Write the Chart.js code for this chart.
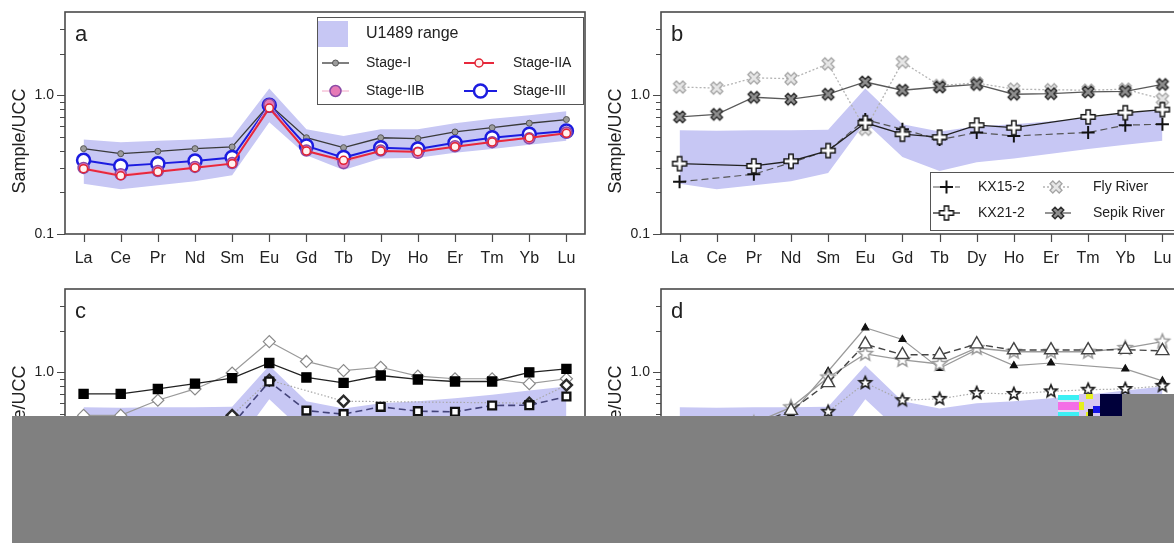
<!DOCTYPE html>
<html>
<head>
<meta charset="utf-8">
<script src="https://cdn.jsdelivr.net/npm/chart.js@4.4.0/dist/chart.umd.min.js"></script>
<style>
html, body { margin: 0; padding: 0; background: #fff; }
#wrap { position: relative; width: 1174px; height: 543px; overflow: hidden; }
#wrap canvas { position: absolute; }
.mask { position: absolute; }
</style>
</head>
<body>
<div id="wrap">
  <canvas id="panelA" width="596" height="277" style="left:0;top:0"></canvas>
  <canvas id="panelB" width="596" height="277" style="left:596px;top:0"></canvas>
  <canvas id="panelC" width="596" height="277" style="left:0;top:277px"></canvas>
  <canvas id="panelD" width="596" height="277" style="left:596px;top:277px"></canvas>
  <!-- grey block that hides the lower part of panels c and d -->
  <div class="mask" style="left:12px;top:416px;width:1162px;height:127px;background:#808080"></div>
  <div class="mask" style="left:1121px;top:394px;width:53px;height:22px;background:#808080"></div>
  <div class="mask" style="left:1079px;top:394px;width:22px;height:22px;background:#d6c8f2"></div>
  <div class="mask" style="left:1058px;top:395px;width:21px;height:5px;background:#3cf0f4"></div>
  <div class="mask" style="left:1058px;top:400px;width:21px;height:2px;background:#e4dcf6"></div>
  <div class="mask" style="left:1058px;top:402px;width:21px;height:8px;background:#f46ee6"></div>
  <div class="mask" style="left:1058px;top:410px;width:21px;height:2px;background:#e4dcf6"></div>
  <div class="mask" style="left:1058px;top:412px;width:21px;height:4px;background:#3cf0f4"></div>
  <div class="mask" style="left:1079px;top:402px;width:5px;height:8px;background:#e6f01e"></div>
  <div class="mask" style="left:1086px;top:394px;width:7px;height:5px;background:#e6f01e"></div>
  <div class="mask" style="left:1086px;top:412px;width:4px;height:4px;background:#e6f01e"></div>
  <div class="mask" style="left:1088px;top:409px;width:5px;height:7px;background:#101010"></div>
  <div class="mask" style="left:1093px;top:406px;width:7px;height:7px;background:#1414e6"></div>
  <div class="mask" style="left:1100px;top:394px;width:22px;height:22px;background:#00003a"></div>
</div>
<script>
// REE categories and y axis ticks
var elements = ['La', 'Ce', 'Pr', 'Nd', 'Sm', 'Eu', 'Gd', 'Tb', 'Dy', 'Ho', 'Er', 'Tm', 'Yb', 'Lu'];
var yTickValues = [0.1, 0.2, 0.3, 0.4, 0.5, 0.6, 0.7, 0.8, 0.9, 1, 2, 3];
var yTickLabels = ['0.1', '', '', '', '', '', '', '', '', '1.0', '', ''];

// U1489 range (panel a)
var rangeLowA  = [0.23, 0.21, 0.225, 0.24, 0.265, 0.64, 0.37, 0.29, 0.35, 0.355, 0.385, 0.41, 0.44, 0.47];
var rangeHighA = [0.48, 0.46, 0.47, 0.48, 0.50, 1.12, 0.57, 0.51, 0.57, 0.57, 0.63, 0.68, 0.72, 0.77];
// U1489 range (panels b, c, d)
var rangeLow  = [0.23, 0.21, 0.225, 0.24, 0.275, 0.64, 0.36, 0.285, 0.33, 0.35, 0.38, 0.41, 0.44, 0.47];
var rangeHigh = [0.56, 0.555, 0.56, 0.56, 0.565, 1.12, 0.62, 0.55, 0.60, 0.62, 0.65, 0.69, 0.74, 0.79];

// panel a
var stageI   = [0.413, 0.38, 0.395, 0.413, 0.425, 0.86, 0.495, 0.42, 0.495, 0.488, 0.545, 0.585, 0.63, 0.67];
var stageIIA = [0.296, 0.263, 0.281, 0.301, 0.322, 0.81, 0.397, 0.34, 0.397, 0.393, 0.427, 0.461, 0.495, 0.533];
var stageIIB = [0.30, 0.27, 0.285, 0.305, 0.325, 0.86, 0.40, 0.325, 0.40, 0.385, 0.43, 0.46, 0.49, 0.54];
var stageIII = [0.34, 0.31, 0.322, 0.336, 0.356, 0.85, 0.432, 0.356, 0.42, 0.41, 0.456, 0.495, 0.524, 0.553];

// panel b
var kx15 = [0.238, null, 0.27, 0.327, 0.40, 0.67, 0.57, 0.48, 0.54, 0.51, null, 0.54, 0.61, 0.62];
var kx21 = [0.322, null, 0.31, 0.335, 0.40, 0.635, 0.525, 0.50, 0.61, 0.585, null, 0.70, 0.75, 0.79];
var flyRiver   = [1.15, 1.13, 1.34, 1.32, 1.69, 0.57, 1.74, 1.18, 1.23, 1.11, 1.10, 1.09, 1.11, 0.94];
var sepikRiver = [0.70, 0.73, 0.97, 0.94, 1.02, 1.25, 1.09, 1.15, 1.20, 1.02, 1.03, 1.06, 1.07, 1.20];

// panel c
var cSolidSquare = [0.70, 0.70, 0.76, 0.83, 0.91, 1.17, 0.92, 0.84, 0.95, 0.89, 0.86, 0.86, 1.00, 1.06];
var cOpenDiamond = [0.49, 0.49, 0.63, 0.76, 0.99, 1.67, 1.20, 1.03, 1.09, 0.94, 0.90, 0.90, 0.83, 0.90];
var cBoldDiamond = [0.30, 0.28, 0.32, 0.38, 0.49, 0.88, null, 0.62, null, null, null, null, 0.60, 0.81];
var cOpenSquare  = [0.25, 0.24, 0.27, 0.31, 0.42, 0.86, 0.53, 0.50, 0.565, 0.525, 0.52, 0.577, 0.58, 0.67];

// panel d
var dSolidTriangle = [0.30, 0.33, 0.40, 0.50, 1.02, 2.10, 1.73, 1.07, 1.46, 1.12, 1.17, null, 1.06, 0.87];
var dOpenTriangle  = [0.30, 0.33, 0.42, 0.53, 0.84, 1.60, 1.34, 1.34, 1.60, 1.45, 1.45, 1.45, 1.46, 1.43];
var dGreyStar      = [0.32, 0.34, 0.43, 0.56, 0.92, 1.36, 1.23, 1.15, 1.50, 1.41, 1.41, 1.41, 1.50, 1.67];
var dBlackStar     = [0.20, 0.22, 0.26, 0.32, 0.52, 0.84, 0.63, 0.645, 0.71, 0.70, 0.73, 0.75, 0.76, 0.80];

var FONT = '"Liberation Sans", Arial, Helvetica, sans-serif';
var BAND = '#c7c7f4';
Chart.defaults.font.family = FONT;
Chart.defaults.color = '#222';

// small canvases used as point styles
function makeMarker(size, draw) {
    var c = document.createElement('canvas');
    c.width = size;
    c.height = size;
    var ctx = c.getContext('2d');
    ctx.translate(size / 2, size / 2);
    draw(ctx);
    return c;
}

function plusPath(ctx, len, arm) {
    ctx.beginPath();
    ctx.moveTo(-arm, -len); ctx.lineTo(arm, -len); ctx.lineTo(arm, -arm); ctx.lineTo(len, -arm);
    ctx.lineTo(len, arm); ctx.lineTo(arm, arm); ctx.lineTo(arm, len); ctx.lineTo(-arm, len);
    ctx.lineTo(-arm, arm); ctx.lineTo(-len, arm); ctx.lineTo(-len, -arm); ctx.lineTo(-arm, -arm);
    ctx.closePath();
}

function starPath(ctx, r) {
    ctx.beginPath();
    for (var i = 0; i < 10; i++) {
        var rr = i % 2 ? r * 0.45 : r;
        var ang = -Math.PI / 2 + i * Math.PI / 5;
        ctx.lineTo(Math.cos(ang) * rr, Math.sin(ang) * rr);
    }
    ctx.closePath();
}

var hollowPlus = makeMarker(18, function(ctx) {
    plusPath(ctx, 7, 2.2);
    ctx.fillStyle = '#fff'; ctx.fill();
    ctx.lineWidth = 1.4; ctx.strokeStyle = '#111'; ctx.stroke();
});
var flyCross = makeMarker(18, function(ctx) {
    ctx.rotate(Math.PI / 4);
    plusPath(ctx, 6.5, 2);
    ctx.fillStyle = '#e6e6e6'; ctx.fill();
    ctx.lineWidth = 1.3; ctx.strokeStyle = '#a4a4a4'; ctx.stroke();
});
var sepikCross = makeMarker(18, function(ctx) {
    ctx.rotate(Math.PI / 4);
    plusPath(ctx, 6.2, 2);
    ctx.fillStyle = '#8e8e8e'; ctx.fill();
    ctx.lineWidth = 1.4; ctx.strokeStyle = '#2e2e2e'; ctx.stroke();
});
var greyStar = makeMarker(20, function(ctx) {
    starPath(ctx, 7.5);
    ctx.fillStyle = '#fff'; ctx.fill();
    ctx.lineWidth = 1.5; ctx.strokeStyle = '#9c9c9c'; ctx.stroke();
});
var blackStar = makeMarker(18, function(ctx) {
    starPath(ctx, 6.5);
    ctx.fillStyle = '#fff'; ctx.fill();
    ctx.lineWidth = 1.6; ctx.strokeStyle = '#1c1c1c'; ctx.stroke();
});

function bandSets(low, high) {
    return [{
        label: 'U1489 range', data: high, order: 20,
        borderWidth: 0, pointRadius: 0, backgroundColor: BAND, fill: '+1', tension: 0
    }, {
        label: 'range low', data: low, order: 21,
        borderWidth: 0, pointRadius: 0, backgroundColor: BAND, fill: false
    }];
}

function series(label, data, order, style) {
    var ds = {
        label: label, data: data, order: order, fill: false, spanGaps: true,
        borderColor: '#333', borderWidth: 1.2, borderDash: [],
        pointStyle: 'circle', pointRadius: 4, pointBorderWidth: 1.2,
        pointBackgroundColor: '#fff', pointBorderColor: '#333'
    };
    Object.keys(style).forEach(function(k) { ds[k] = style[k]; });
    ds.pointHoverRadius = ds.pointRadius;
    return ds;
}

function drawLegend(chart, cfg) {
    var ctx = chart.ctx;
    ctx.save();
    ctx.fillStyle = '#fff';
    ctx.fillRect(cfg.box[0], cfg.box[1], cfg.box[2], cfg.box[3]);
    ctx.strokeStyle = '#555';
    ctx.lineWidth = 1;
    ctx.strokeRect(cfg.box[0] + 0.5, cfg.box[1] + 0.5, cfg.box[2], cfg.box[3]);
    cfg.items.forEach(function(it) {
        var ds = chart.data.datasets[it.ds];
        if (it.swatch) {
            ctx.fillStyle = ds.backgroundColor;
            ctx.fillRect(it.swatch[0], it.swatch[1], it.swatch[2], it.swatch[3]);
        } else {
            ctx.save();
            ctx.strokeStyle = ds.borderColor;
            ctx.lineWidth = ds.borderWidth;
            ctx.setLineDash(ds.borderDash || []);
            ctx.beginPath();
            ctx.moveTo(it.x0, it.y);
            ctx.lineTo(it.x1, it.y);
            ctx.stroke();
            ctx.restore();
            ctx.save();
            ctx.fillStyle = ds.pointBackgroundColor;
            ctx.strokeStyle = ds.pointBorderColor;
            ctx.lineWidth = ds.pointBorderWidth;
            Chart.helpers.drawPoint(ctx, {
                pointStyle: ds.pointStyle, radius: ds.pointRadius,
                borderWidth: ds.pointBorderWidth, rotation: 0
            }, (it.x0 + it.x1) / 2, it.y);
            ctx.restore();
        }
        ctx.fillStyle = '#222';
        ctx.font = it.font + 'px ' + FONT;
        ctx.textAlign = 'left';
        ctx.textBaseline = 'middle';
        ctx.fillText(ds.label, it.tx, it.ty || it.y);
    });
    ctx.restore();
}

// frame, tick marks, panel letter, axis title and legend
var panelDeco = {
    id: 'panelDeco',
    afterDraw: function(chart, args, opts) {
        var ctx = chart.ctx;
        var a = chart.chartArea;
        var xs = chart.scales.x, ys = chart.scales.y;
        ctx.save();
        ctx.strokeStyle = '#4a4a4a';
        ctx.lineWidth = 1.2;
        ctx.beginPath();
        ys.ticks.forEach(function(t, i) {
            var py = Math.round(ys.getPixelForValue(t.value)) + 0.5;
            var len = yTickLabels[i] ? 8 : 5;
            ctx.moveTo(a.left - len, py);
            ctx.lineTo(a.left, py);
        });
        xs.ticks.forEach(function(t, i) {
            var px = Math.round(xs.getPixelForTick(i)) + 0.5;
            ctx.moveTo(px, a.bottom);
            ctx.lineTo(px, a.bottom + 8);
        });
        ctx.stroke();
        ctx.lineWidth = 1.6;
        ctx.strokeRect(a.left, a.top, a.right - a.left, a.bottom - a.top);

        ctx.fillStyle = '#222';
        ctx.font = '22px ' + FONT;
        ctx.textAlign = 'left';
        ctx.textBaseline = 'alphabetic';
        ctx.fillText(opts.letter, a.left + 10, a.top + 29);

        ctx.save();
        ctx.translate(20.5, a.top + 129);
        ctx.rotate(-Math.PI / 2);
        ctx.textAlign = 'center';
        ctx.textBaseline = 'middle';
        ctx.font = '18px ' + FONT;
        ctx.fillText('Sample/UCC', 0, 0);
        ctx.restore();
        ctx.restore();
        if (opts.legend) drawLegend(chart, opts.legend);
    }
};

function makePanel(id, letter, datasets, legend) {
    return new Chart(document.getElementById(id), {
        type: 'line',
        data: { labels: elements, datasets: datasets },
        plugins: [panelDeco],
        options: {
            responsive: false,
            animation: false,
            devicePixelRatio: 1,
            layout: { padding: { left: 0, top: 12, right: 11, bottom: 0 } },
            plugins: {
                legend: { display: false },
                tooltip: { enabled: false },
                panelDeco: { letter: letter, legend: legend }
            },
            scales: {
                x: {
                    type: 'category',
                    offset: true,
                    grid: { display: true, drawOnChartArea: false, drawTicks: true, tickLength: 8, color: 'rgba(0,0,0,0)' },
                    border: { display: false },
                    ticks: { autoSkip: false, maxRotation: 0, padding: 7, font: { size: 16 }, color: '#222' },
                    afterFit: function(scale) { scale.height = 43; }
                },
                y: {
                    type: 'logarithmic',
                    min: 0.1,
                    max: 4,
                    grid: { display: true, drawOnChartArea: false, drawTicks: true, tickLength: 8, color: 'rgba(0,0,0,0)' },
                    border: { display: false },
                    afterBuildTicks: function(scale) {
                        scale.ticks = yTickValues.map(function(v) { return { value: v }; });
                    },
                    ticks: {
                        autoSkip: false, padding: 3, font: { size: 14 }, color: '#222',
                        callback: function(value, index) { return yTickLabels[index]; }
                    },
                    afterFit: function(scale) { scale.width = 65; }
                }
            }
        }
    });
}

// Panel a
makePanel('panelA', 'a', bandSets(rangeLowA, rangeHighA).concat([
    series('Stage-I', stageI, 4, {
        borderColor: '#3a3a3a', borderWidth: 1.3, pointRadius: 3,
        pointBackgroundColor: '#9c9c9c', pointBorderColor: '#555', pointBorderWidth: 1
    }),
    series('Stage-III', stageIII, 3, {
        borderColor: '#1c1ce0', borderWidth: 2, pointRadius: 6.5,
        pointBackgroundColor: '#fff', pointBorderColor: '#1c1ce0', pointBorderWidth: 2.5
    }),
    series('Stage-IIB', stageIIB, 2, {
        borderColor: '#f2a6c6', borderWidth: 1, pointRadius: 5.5,
        pointBackgroundColor: '#e67ab6', pointBorderColor: '#8a4aa6', pointBorderWidth: 1.5
    }),
    series('Stage-IIA', stageIIA, 1, {
        borderColor: '#e8283c', borderWidth: 2, pointRadius: 4,
        pointBackgroundColor: '#fff2f0', pointBorderColor: '#e02434', pointBorderWidth: 1.5
    })
]), {
    box: [317, 17, 266, 87],
    items: [
        { ds: 0, swatch: [318, 21, 30, 26], tx: 366, y: 34, font: 16 },
        { ds: 2, x0: 322, x1: 349, y: 63, tx: 366, font: 14 },
        { ds: 5, x0: 464, x1: 494, y: 63, tx: 513, font: 14 },
        { ds: 4, x0: 322, x1: 349, y: 91, tx: 366, font: 14 },
        { ds: 3, x0: 464, x1: 497, y: 91, tx: 513, font: 14 }
    ]
});

// Panel b
makePanel('panelB', 'b', bandSets(rangeLow, rangeHigh).concat([
    series('Fly River', flyRiver, 4, {
        borderColor: '#b4b4b4', borderWidth: 1.3, borderDash: [2, 2],
        pointStyle: flyCross, pointRadius: 6
    }),
    series('Sepik River', sepikRiver, 3, {
        borderColor: '#5a5a5a', borderWidth: 1.3,
        pointStyle: sepikCross, pointRadius: 6
    }),
    series('KX15-2', kx15, 2, {
        borderColor: '#555', borderWidth: 1.2, borderDash: [7, 4],
        pointStyle: 'cross', pointRadius: 6.5, pointBorderColor: '#111', pointBorderWidth: 2
    }),
    series('KX21-2', kx21, 1, {
        borderColor: '#222', borderWidth: 1.3,
        pointStyle: hollowPlus, pointRadius: 7
    })
]), {
    box: [334, 172, 244, 58],
    items: [
        { ds: 4, x0: 337, x1: 364, y: 187, tx: 382, font: 14 },
        { ds: 2, x0: 447, x1: 473, y: 187, tx: 497, font: 14 },
        { ds: 5, x0: 337, x1: 364, y: 213, tx: 382, font: 14 },
        { ds: 3, x0: 449, x1: 475, y: 213, tx: 497, font: 14 }
    ]
});

// Panel c
makePanel('panelC', 'c', bandSets(rangeLow, rangeHigh).concat([
    series('open diamond', cOpenDiamond, 4, {
        borderColor: '#9a9a9a', borderWidth: 1.2,
        pointStyle: 'rectRot', pointRadius: 6, pointBorderColor: '#8a8a8a', pointBorderWidth: 1.2
    }),
    series('solid square', cSolidSquare, 3, {
        borderColor: '#222', borderWidth: 1.3,
        pointStyle: 'rect', pointRadius: 6.5, pointBackgroundColor: '#000', pointBorderColor: '#000'
    }),
    series('bold diamond', cBoldDiamond, 2, {
        borderColor: '#a8a8a8', borderWidth: 1.2, borderDash: [1.5, 2],
        pointStyle: 'rectRot', pointRadius: 5.5, pointBorderColor: '#2a2a2a', pointBorderWidth: 2.4
    }),
    series('open square', cOpenSquare, 1, {
        borderColor: '#44447a', borderWidth: 1.6, borderDash: [7, 4],
        pointStyle: 'rect', pointRadius: 5.5, pointBorderColor: '#111', pointBorderWidth: 2.4
    })
]), null);

// Panel d
makePanel('panelD', 'd', bandSets(rangeLow, rangeHigh).concat([
    series('solid triangle', dSolidTriangle, 4, {
        borderColor: '#9a9a9a', borderWidth: 1.2,
        pointStyle: 'triangle', pointRadius: 4, pointBackgroundColor: '#111', pointBorderColor: '#111'
    }),
    series('grey star', dGreyStar, 3, {
        borderColor: '#9a9a9a', borderWidth: 1.3,
        pointStyle: greyStar, pointRadius: 7
    }),
    series('open triangle', dOpenTriangle, 2, {
        borderColor: '#444', borderWidth: 1.4, borderDash: [7, 4],
        pointStyle: 'triangle', pointRadius: 7.5, pointBorderColor: '#444', pointBorderWidth: 1.4
    }),
    series('black star', dBlackStar, 1, {
        borderColor: '#a8a8a8', borderWidth: 1.2, borderDash: [1.5, 2],
        pointStyle: blackStar, pointRadius: 6
    })
]), null);
</script>
</body>
</html>
